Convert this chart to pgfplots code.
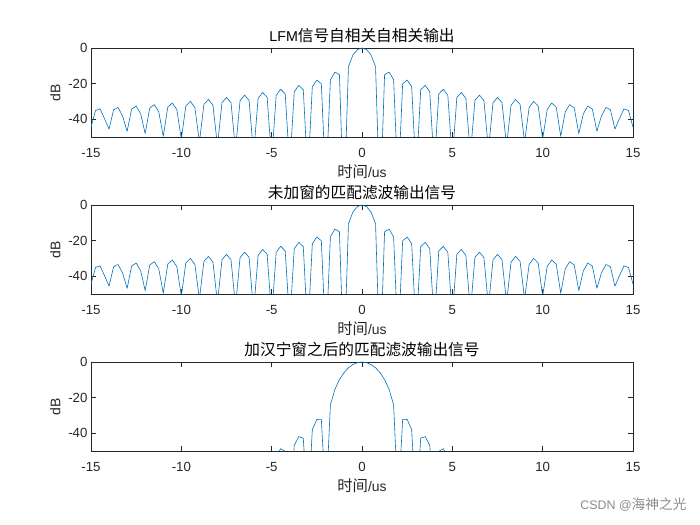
\documentclass[border=0pt]{standalone}
\usepackage{fontspec}
\setmainfont{Liberation Sans}
\newfontfamily\cjk[Scale=1.1]{Noto Sans CJK SC}
\usepackage{pgfplots}
\usepackage{pgfplotstable}
\pgfplotsset{compat=1.18}

\definecolor{mblue}{rgb}{0,0.447,0.741}
\definecolor{axgray}{rgb}{0.15,0.15,0.15}

% autocorrelation / matched filter output without window (dB)
\pgfplotstableread{
t db
-15 -44.5
-14.75 -35.1
-14.5 -34.2
-14.25 -39.7
-14 -45.6
-13.75 -34.7
-13.5 -33.4
-13.25 -38.3
-13 -46.8
-12.75 -34.3
-12.5 -32.6
-12.25 -37.0
-12 -48.1
-11.75 -33.8
-11.5 -31.8
-11.25 -35.8
-11 -49.6
-10.75 -33.2
-10.5 -30.9
-10.25 -34.6
-10 -51.2
-9.75 -32.5
-9.5 -30.0
-9.25 -33.4
-9 -52.9
-8.75 -31.7
-8.5 -28.9
-8.25 -32.1
-8 -55.0
-7.75 -30.7
-7.5 -27.8
-7.25 -30.8
-7 -57.2
-6.75 -29.6
-6.5 -26.5
-6.25 -29.4
-6 -59.9
-5.75 -28.3
-5.5 -25.0
-5.25 -27.7
-5 -62.9
-4.75 -26.6
-4.5 -23.2
-4.25 -25.8
-4 -66.8
-3.75 -24.6
-3.5 -21.0
-3.25 -23.4
-3 -71.7
-2.75 -21.8
-2.5 -18.0
-2.25 -20.1
-2 -78.7
-1.75 -17.9
-1.5 -13.5
-1.25 -15.0
-1 -90.7
-0.75 -10.5
-0.5 -3.9
-0.25 -0.9
0 0
0.25 -0.9
0.5 -3.9
0.75 -10.5
1 -90.7
1.25 -15.0
1.5 -13.5
1.75 -17.9
2 -78.7
2.25 -20.1
2.5 -18.0
2.75 -21.8
3 -71.7
3.25 -23.4
3.5 -21.0
3.75 -24.6
4 -66.8
4.25 -25.8
4.5 -23.2
4.75 -26.6
5 -62.9
5.25 -27.7
5.5 -25.0
5.75 -28.3
6 -59.9
6.25 -29.4
6.5 -26.5
6.75 -29.6
7 -57.2
7.25 -30.8
7.5 -27.8
7.75 -30.7
8 -55.0
8.25 -32.1
8.5 -28.9
8.75 -31.7
9 -52.9
9.25 -33.4
9.5 -30.0
9.75 -32.5
10 -51.2
10.25 -34.6
10.5 -30.9
10.75 -33.2
11 -49.6
11.25 -35.8
11.5 -31.8
11.75 -33.8
12 -48.1
12.25 -37.0
12.5 -32.6
12.75 -34.3
13 -46.8
13.25 -38.3
13.5 -33.4
13.75 -34.7
14 -45.6
14.25 -39.7
14.5 -34.2
14.75 -35.1
15 -44.5
}\lfm

% matched filter output with Hanning window (dB)
\pgfplotstableread{
t db
-15 -100
-14.75 -83.5
-14.5 -80.3
-14.25 -82.5
-14 -100
-13.75 -81.6
-13.5 -78.3
-13.25 -80.5
-13 -100
-12.75 -79.6
-12.5 -76.2
-12.25 -78.4
-12 -99
-11.75 -77.4
-11.5 -73.9
-11.25 -76.1
-11 -98
-10.75 -75.0
-10.5 -71.4
-10.25 -73.6
-10 -97
-9.75 -72.4
-9.5 -68.7
-9.25 -70.9
-9 -96
-8.75 -69.5
-8.5 -65.7
-8.25 -67.9
-8 -95
-7.75 -66.2
-7.5 -62.3
-7.25 -64.4
-7 -94
-6.75 -62.5
-6.5 -58.5
-6.25 -60.5
-6 -92
-5.75 -58.3
-5.5 -54.1
-5.25 -55.8
-5 -90
-4.75 -53.2
-4.5 -48.7
-4.25 -50.2
-4 -88
-3.75 -46.8
-3.5 -41.9
-3.25 -42.8
-3 -85
-2.75 -38.1
-2.5 -32.3
-2.25 -32.2
-2 -80
-1.75 -24.1
-1.5 -15.4
-1.25 -9.89
-1 -6.02
-0.75 -3.27
-0.5 -1.42
-0.25 -0.35
0 0
0.25 -0.35
0.5 -1.42
0.75 -3.27
1 -6.02
1.25 -9.89
1.5 -15.4
1.75 -24.1
2 -80
2.25 -32.2
2.5 -32.3
2.75 -38.1
3 -85
3.25 -42.8
3.5 -41.9
3.75 -46.8
4 -88
4.25 -50.2
4.5 -48.7
4.75 -53.2
5 -90
5.25 -55.8
5.5 -54.1
5.75 -58.3
6 -92
6.25 -60.5
6.5 -58.5
6.75 -62.5
7 -94
7.25 -64.4
7.5 -62.3
7.75 -66.2
8 -95
8.25 -67.9
8.5 -65.7
8.75 -69.5
9 -96
9.25 -70.9
9.5 -68.7
9.75 -72.4
10 -97
10.25 -73.6
10.5 -71.4
10.75 -75.0
11 -98
11.25 -76.1
11.5 -73.9
11.75 -77.4
12 -99
12.25 -78.4
12.5 -76.2
12.75 -79.6
13 -100
13.25 -80.5
13.5 -78.3
13.75 -81.6
14 -100
14.25 -82.5
14.5 -80.3
14.75 -83.5
15 -100
}\hann

\pgfplotsset{
  mat/.style={
    scale only axis, width=542bp, height=89bp,
    anchor=south west,
    xmin=-15, xmax=15, ymin=-50, ymax=0,
    xtick={-15,-10,...,15}, ytick={-40,-20,0},
    xticklabels={-15,-10,-5,0,5,10,15},
    yticklabels={-40,-20,0},
    tick align=inside, major tick length=5bp,
    axis line style={axgray, line width=0.5bp},
    every tick/.style={axgray, line width=0.5bp},
    tick label style={font=\fontsize{13.3}{15}\selectfont, text=axgray},
    xticklabel style={anchor=base, yshift=-20.5bp},
    xlabel style={font=\fontsize{14}{16}\selectfont, text=axgray,
      at={(axis description cs:0.5,0)}, anchor=base, yshift=-40.3bp},
    ylabel style={font=\fontsize{14}{16}\selectfont, text=axgray,
      at={(axis description cs:-0.0655,0.5)}, anchor=center},
    every axis title shift=0pt,
    title style={font=\fontsize{14.3}{16}\selectfont, text=black,
      at={(axis description cs:0.5,1)}, anchor=base, yshift=6.4bp},
    xlabel={{\cjk 时间}/us}, ylabel={dB},
  },
  line/.style={mblue, line width=0.6bp, no marks, line join=round},
}

\begin{document}
\begin{tikzpicture}
\path (0,0) rectangle (700bp,525bp);

\begin{axis}[mat, at={(91bp,388bp)}, title={LFM{\cjk 信号自相关自相关输出}}]
  \addplot[line] table[x=t, y=db] {\lfm};
\end{axis}

\begin{axis}[mat, at={(91bp,231bp)}, title={\cjk 未加窗的匹配滤波输出信号}]
  \addplot[line] table[x=t, y=db] {\lfm};
\end{axis}

\begin{axis}[mat, at={(91bp,74bp)}, title={\cjk 加汉宁窗之后的匹配滤波输出信号}]
  \addplot[line] table[x=t, y=db] {\hann};
\end{axis}

\node[anchor=east, text=black!45, font=\fontsize{12.5}{14}\selectfont] at (690bp,20bp) {CSDN @{\cjk 海神之光}};
\end{tikzpicture}
\end{document}
